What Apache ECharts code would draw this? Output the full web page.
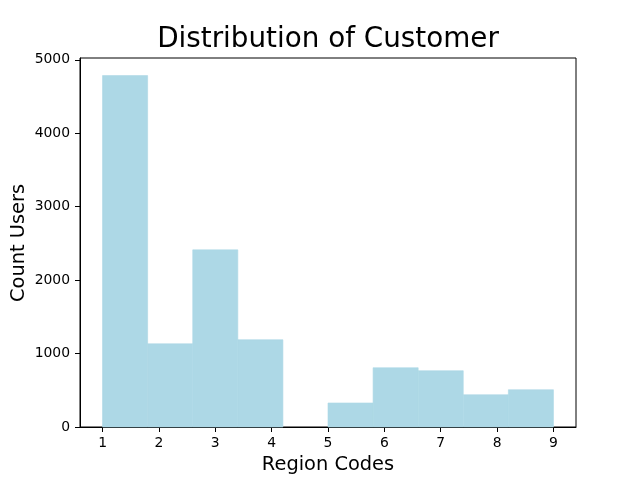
<!DOCTYPE html>
<html><head><meta charset="utf-8">
<script src="https://cdn.jsdelivr.net/npm/echarts@6/dist/echarts.min.js"></script>
<style>html,body{margin:0;padding:0;background:#fff}#c{width:640px;height:480px}</style>
</head><body><div id="c"></div>
<script>
const binStarts = [1.0, 1.8, 2.6, 3.4, 4.2, 5.0, 5.8, 6.6, 7.4, 8.2];
const binWidth = 0.8;
const counts = [4785, 1133, 2412, 1188, 0, 327, 807, 766, 439, 507];
const xTicks = [1, 2, 3, 4, 5, 6, 7, 8, 9];
const yTicks = [0, 1000, 2000, 3000, 4000, 5000];

const FONT = 'DejaVu Sans';
const data = binStarts.map((s, i) => [s, s + binWidth, counts[i]]);
const chart = echarts.init(document.getElementById('c'), null, {renderer: 'canvas'});
chart.setOption({
  animation: false,
  backgroundColor: '#fff',
  grid: {left: 80, right: 64, top: 58, bottom: 53, show: true, borderColor: '#000', borderWidth: 1, backgroundColor: 'transparent', outerBoundsMode: 'none'},
  xAxis: {
    type: 'value', min: 0.6, max: 9.4,
    splitLine: {show: false},
    axisLine: {show: true, lineStyle: {color: '#000', width: 1}},
    axisTick: {show: true, length: 5, lineStyle: {color: '#000', width: 1}, customValues: xTicks},
    axisLabel: {color: '#000', fontFamily: FONT, fontSize: 13.9, margin: 9, customValues: xTicks, formatter: v => String(v)}
  },
  yAxis: {
    type: 'value', min: 0, max: 5024,
    splitLine: {show: false},
    axisLine: {show: true, lineStyle: {color: '#000', width: 1}},
    axisTick: {show: true, length: 5, lineStyle: {color: '#000', width: 1}, customValues: yTicks},
    axisLabel: {color: '#000', fontFamily: FONT, fontSize: 13.9, margin: 10, customValues: yTicks, formatter: v => String(v)}
  },
  graphic: [
    {type: 'text', x: 328, y: 40, style: {text: 'Distribution of Customer', font: '27.8px "DejaVu Sans"', fill: '#000', align: 'center', verticalAlign: 'middle'}, z: 10},
    {type: 'text', x: 328, y: 465, style: {text: 'Region Codes', font: '19.4px "DejaVu Sans"', fill: '#000', align: 'center', verticalAlign: 'middle'}},
    {type: 'text', x: 19, y: 243, rotation: Math.PI / 2, style: {text: 'Count Users', font: '19.4px "DejaVu Sans"', fill: '#000', align: 'center', verticalAlign: 'middle'}}
  ],
  series: [{
    type: 'custom',
    data: data,
    encode: {x: [0, 1], y: 2},
    renderItem: function (params, api) {
      const p0 = api.coord([api.value(0), 0]);
      const p1 = api.coord([api.value(1), api.value(2)]);
      return {
        type: 'rect',
        shape: {x: p0[0], y: p1[1], width: p1[0] - p0[0], height: p0[1] - p1[1]},
        style: {fill: '#add8e6', stroke: api.value(2) > 0 ? '#add8e6' : null, lineWidth: 0.6}
      };
    }
  }]
});
</script></body></html>
